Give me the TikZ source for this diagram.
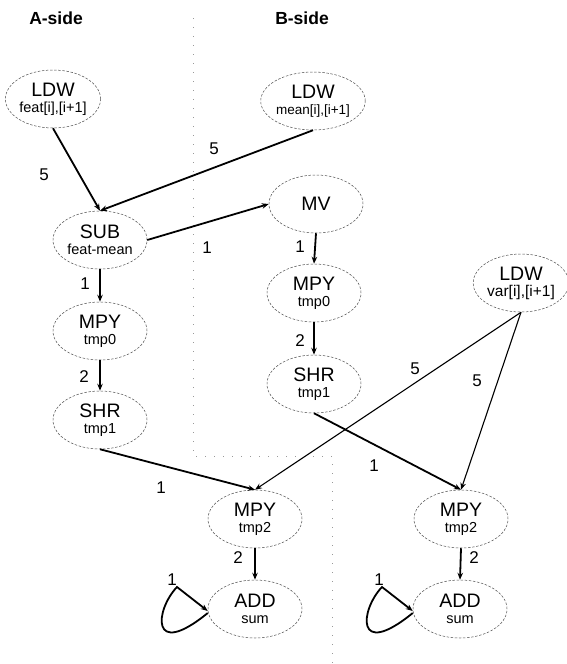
\documentclass[tikz,border=0pt]{standalone}
\usepackage{fontspec}
\setmainfont{Liberation Sans}
\usetikzlibrary{shapes.geometric,arrows.meta}
\newcommand{\mnf}{\fontsize{19.5}{19.5}\selectfont}
\newcommand{\sbf}[1]{\fontsize{#1}{17}\selectfont}
\begin{document}
\begin{tikzpicture}[x=1pt,y=-1pt,
  op/.style={ellipse, draw=black!70, dash pattern=on 2.5pt off 1.6pt, line width=0.5pt,
    minimum width=94pt, minimum height=58pt, inner sep=0pt, align=center},
  arr/.style={draw=black, line width=1.8pt, -{Stealth[length=7pt,width=5.5pt]}},
  thinarr/.style={arr, line width=1.1pt},
  elab/.style={font=\fontsize{17}{17}\selectfont, inner sep=0pt},
  side/.style={font=\fontsize{17.5}{17.5}\selectfont\bfseries, inner sep=0pt},
  divider/.style={draw=black!40, line width=0.8pt, dash pattern=on 1pt off 8pt}
]
\useasboundingbox (0,0) rectangle (567,664);

% divider
\draw[divider] (193,18) -- (193,456) -- (332,456) -- (332,664);

% titles
\node[side] (ta) at (56,18) {A-side};
\node[side] (tb) at (302,18) {B-side};

% nodes
\node[op] (ldwA) at (53,99) {\mnf LDW\\[4pt]\sbf{14.5}feat[i],[i+1]};
\node[op] (ldwB) at (313,101) {\mnf LDW\\[4pt]\sbf{13.5}mean[i],[i+1]};
\node[op] (sub) at (100,240) {\mnf SUB\\[4pt]\sbf{14.5}feat-mean};
\node[op] (mv) at (316,204) {\mnf MV};
\node[op] (mpyA0) at (100,331) {\mnf MPY\\[4pt]\sbf{14.5}tmp0};
\node[op] (shrA) at (100,420) {\mnf SHR\\[4pt]\sbf{14.5}tmp1};
\node[op] (mpyB0) at (314,293) {\mnf MPY\\[4pt]\sbf{14.5}tmp0};
\node[op] (shrB) at (314,384) {\mnf SHR\\[4pt]\sbf{14.5}tmp1};
\node[op] (ldwV) at (521,283) {\mnf LDW\\[4pt]\sbf{15.5}var[i],[i+1]};
\node[op] (mpyA) at (255,519) {\mnf MPY\\[4pt]\sbf{14.5}tmp2};
\node[op] (addA) at (255,609) {\mnf ADD\\[4pt]\sbf{14.5}sum};
\node[op] (mpyB) at (461,519) {\mnf MPY\\[4pt]\sbf{14.5}tmp2};
\node[op] (addB) at (460,609) {\mnf ADD\\[4pt]\sbf{14.5}sum};

% edges
\draw[arr] (ldwA.south) -- (sub.north) node[elab] at (44,175) {5};
\draw[arr] (ldwB.south) -- (sub.north) node[elab] at (214,149) {5};
\draw[arr] (sub.east) -- (mv.west) node[elab] at (207,248) {1};
\draw[arr] (sub.south) -- (mpyA0.north) node[elab] at (85,284) {1};
\draw[arr] (mpyA0.south) -- (shrA.north) node[elab] at (84,377) {2};
\draw[arr] (mv.south) -- (mpyB0.north) node[elab] at (300,247) {1};
\draw[arr] (mpyB0.south) -- (shrB.north) node[elab] at (300,341) {2};
\draw[arr] (shrA.south) -- (mpyA.north) node[elab] at (161,488) {1};
\draw[arr] (shrB.south) -- (mpyB.north) node[elab] at (374,466) {1};
\draw[thinarr] (ldwV.south) -- (mpyA.north) node[elab] at (415,369) {5};
\draw[thinarr] (ldwV.south) -- (mpyB.north) node[elab] at (477,381) {5};
\draw[arr] (mpyA.south) -- (addA.north) node[elab] at (238,558) {2};
\draw[arr] (mpyB.south) -- (addB.north) node[elab] at (474,558) {2};

% self loops
\draw[arr] ([yshift=-4pt]addA.west) .. controls (150,660) and (155,610) .. (177,587)
  -- ([yshift=-2pt]addA.west) node[elab] at (172,580) {1};
\draw[arr] ([yshift=-4pt]addB.west) .. controls (355,660) and (360,610) .. (382,587)
  -- ([yshift=-2pt]addB.west) node[elab] at (379,580) {1};
\end{tikzpicture}
\end{document}
